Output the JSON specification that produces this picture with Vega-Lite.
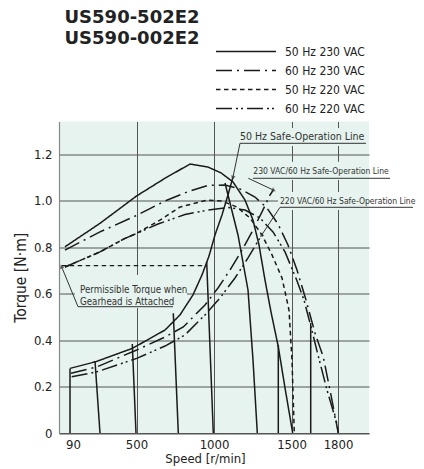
{
  "$schema": "https://vega.github.io/schema/vega-lite/v6.json",
  "width": 310,
  "height": 311.5,
  "autosize": {"type": "none"},
  "padding": {"left": 59, "top": 121.5, "right": 55, "bottom": 36},
  "config": {
    "view": {"stroke": null, "fill": "#e6f3ee"},
    "background": "white"
  },
  "title": {
    "text": ["US590-502E2", "US590-002E2"],
    "anchor": "start", "frame": "group", "orient": "top",
    "offset": 0, "dy": 5.5, "dx": 5.5,
    "font": "DejaVu Sans", "fontWeight": "bold", "fontSize": 18, "lineHeight": 21, "color": "#222"
  },
  "datasets": {
    "boxes": [
      {"s1": 1148.4, "s2": 2000, "t1": 1.312, "t2": 1.2346},
      {"s1": 1232.3, "s2": 2000, "t1": 1.1671, "t2": 1.0884},
      {"s1": 1412.9, "s2": 2000, "t1": 1.0367, "t2": 0.9593},
      {"s1": 103.2, "s2": 825.8, "t1": 0.6797, "t2": 0.5377}
    ],
    "curves": [
      {"series": "max 50Hz 230V", "cond": "50 Hz 230 VAC", "speed": 38.7, "torque": 0.801},
      {"series": "max 50Hz 230V", "cond": "50 Hz 230 VAC", "speed": 264.5, "torque": 0.902},
      {"series": "max 50Hz 230V", "cond": "50 Hz 230 VAC", "speed": 501.3, "torque": 1.020},
      {"series": "max 50Hz 230V", "cond": "50 Hz 230 VAC", "speed": 684.1, "torque": 1.096},
      {"series": "max 50Hz 230V", "cond": "50 Hz 230 VAC", "speed": 845.2, "torque": 1.157},
      {"series": "max 50Hz 230V", "cond": "50 Hz 230 VAC", "speed": 961.3, "torque": 1.144},
      {"series": "max 50Hz 230V", "cond": "50 Hz 230 VAC", "speed": 1045.2, "torque": 1.119},
      {"series": "max 50Hz 230V", "cond": "50 Hz 230 VAC", "speed": 1122.6, "torque": 1.080},
      {"series": "max 50Hz 230V", "cond": "50 Hz 230 VAC", "speed": 1200, "torque": 1.002},
      {"series": "max 50Hz 230V", "cond": "50 Hz 230 VAC", "speed": 1251.6, "torque": 0.916},
      {"series": "max 50Hz 230V", "cond": "50 Hz 230 VAC", "speed": 1290.3, "torque": 0.809},
      {"series": "max 50Hz 230V", "cond": "50 Hz 230 VAC", "speed": 1329, "torque": 0.658},
      {"series": "max 50Hz 230V", "cond": "50 Hz 230 VAC", "speed": 1367.7, "torque": 0.521},
      {"series": "max 50Hz 230V", "cond": "50 Hz 230 VAC", "speed": 1414.8, "torque": 0.371},
      {"series": "max 50Hz 230V", "cond": "50 Hz 230 VAC", "speed": 1458.1, "torque": 0.194},
      {"series": "max 50Hz 230V", "cond": "50 Hz 230 VAC", "speed": 1507.7, "torque": 0},

      {"series": "max 60Hz 230V", "cond": "60 Hz 230 VAC", "speed": 38.7, "torque": 0.787},
      {"series": "max 60Hz 230V", "cond": "60 Hz 230 VAC", "speed": 264.5, "torque": 0.865},
      {"series": "max 60Hz 230V", "cond": "60 Hz 230 VAC", "speed": 501.3, "torque": 0.936},
      {"series": "max 60Hz 230V", "cond": "60 Hz 230 VAC", "speed": 684.1, "torque": 0.998},
      {"series": "max 60Hz 230V", "cond": "60 Hz 230 VAC", "speed": 832.3, "torque": 1.038},
      {"series": "max 60Hz 230V", "cond": "60 Hz 230 VAC", "speed": 961.3, "torque": 1.065},
      {"series": "max 60Hz 230V", "cond": "60 Hz 230 VAC", "speed": 1071, "torque": 1.067},
      {"series": "max 60Hz 230V", "cond": "60 Hz 230 VAC", "speed": 1167.7, "torque": 1.050},
      {"series": "max 60Hz 230V", "cond": "60 Hz 230 VAC", "speed": 1264.5, "torque": 1.015},
      {"series": "max 60Hz 230V", "cond": "60 Hz 230 VAC", "speed": 1341.9, "torque": 0.968},
      {"series": "max 60Hz 230V", "cond": "60 Hz 230 VAC", "speed": 1412.9, "torque": 0.899},
      {"series": "max 60Hz 230V", "cond": "60 Hz 230 VAC", "speed": 1477.4, "torque": 0.809},
      {"series": "max 60Hz 230V", "cond": "60 Hz 230 VAC", "speed": 1535.5, "torque": 0.701},
      {"series": "max 60Hz 230V", "cond": "60 Hz 230 VAC", "speed": 1593.5, "torque": 0.572},
      {"series": "max 60Hz 230V", "cond": "60 Hz 230 VAC", "speed": 1651.6, "torque": 0.430},
      {"series": "max 60Hz 230V", "cond": "60 Hz 230 VAC", "speed": 1705.2, "torque": 0.327},
      {"series": "max 60Hz 230V", "cond": "60 Hz 230 VAC", "speed": 1754.8, "torque": 0.163},
      {"series": "max 60Hz 230V", "cond": "60 Hz 230 VAC", "speed": 1802, "torque": 0},

      {"series": "max 50Hz 220V", "cond": "50 Hz 220 VAC", "speed": 38.7, "torque": 0.714},
      {"series": "max 50Hz 220V", "cond": "50 Hz 220 VAC", "speed": 264.5, "torque": 0.779},
      {"series": "max 50Hz 220V", "cond": "50 Hz 220 VAC", "speed": 419.4, "torque": 0.835},
      {"series": "max 50Hz 220V", "cond": "50 Hz 220 VAC", "speed": 501.3, "torque": 0.859},
      {"series": "max 50Hz 220V", "cond": "50 Hz 220 VAC", "speed": 651.6, "torque": 0.916},
      {"series": "max 50Hz 220V", "cond": "50 Hz 220 VAC", "speed": 780.6, "torque": 0.972},
      {"series": "max 50Hz 220V", "cond": "50 Hz 220 VAC", "speed": 954.8, "torque": 1.002},
      {"series": "max 50Hz 220V", "cond": "50 Hz 220 VAC", "speed": 1051.6, "torque": 0.998},
      {"series": "max 50Hz 220V", "cond": "50 Hz 220 VAC", "speed": 1148.4, "torque": 0.972},
      {"series": "max 50Hz 220V", "cond": "50 Hz 220 VAC", "speed": 1232.3, "torque": 0.925},
      {"series": "max 50Hz 220V", "cond": "50 Hz 220 VAC", "speed": 1309.7, "torque": 0.852},
      {"series": "max 50Hz 220V", "cond": "50 Hz 220 VAC", "speed": 1374.2, "torque": 0.766},
      {"series": "max 50Hz 220V", "cond": "50 Hz 220 VAC", "speed": 1438.7, "torque": 0.667},
      {"series": "max 50Hz 220V", "cond": "50 Hz 220 VAC", "speed": 1483.9, "torque": 0.529},
      {"series": "max 50Hz 220V", "cond": "50 Hz 220 VAC", "speed": 1503.2, "torque": 0.314},
      {"series": "max 50Hz 220V", "cond": "50 Hz 220 VAC", "speed": 1518, "torque": 0},

      {"series": "max 60Hz 220V", "cond": "60 Hz 220 VAC", "speed": 38.7, "torque": 0.714},
      {"series": "max 60Hz 220V", "cond": "60 Hz 220 VAC", "speed": 264.5, "torque": 0.779},
      {"series": "max 60Hz 220V", "cond": "60 Hz 220 VAC", "speed": 419.4, "torque": 0.835},
      {"series": "max 60Hz 220V", "cond": "60 Hz 220 VAC", "speed": 638.7, "torque": 0.899},
      {"series": "max 60Hz 220V", "cond": "60 Hz 220 VAC", "speed": 812.9, "torque": 0.940},
      {"series": "max 60Hz 220V", "cond": "60 Hz 220 VAC", "speed": 961.3, "torque": 0.959},
      {"series": "max 60Hz 220V", "cond": "60 Hz 220 VAC", "speed": 1090.3, "torque": 0.970},
      {"series": "max 60Hz 220V", "cond": "60 Hz 220 VAC", "speed": 1200, "torque": 0.959},
      {"series": "max 60Hz 220V", "cond": "60 Hz 220 VAC", "speed": 1296.8, "torque": 0.925},
      {"series": "max 60Hz 220V", "cond": "60 Hz 220 VAC", "speed": 1380.6, "torque": 0.865},
      {"series": "max 60Hz 220V", "cond": "60 Hz 220 VAC", "speed": 1458.1, "torque": 0.779},
      {"series": "max 60Hz 220V", "cond": "60 Hz 220 VAC", "speed": 1533.5, "torque": 0.658},
      {"series": "max 60Hz 220V", "cond": "60 Hz 220 VAC", "speed": 1580.6, "torque": 0.572},
      {"series": "max 60Hz 220V", "cond": "60 Hz 220 VAC", "speed": 1619.4, "torque": 0.473},
      {"series": "max 60Hz 220V", "cond": "60 Hz 220 VAC", "speed": 1671, "torque": 0.336},
      {"series": "max 60Hz 220V", "cond": "60 Hz 220 VAC", "speed": 1729, "torque": 0.185},
      {"series": "max 60Hz 220V", "cond": "60 Hz 220 VAC", "speed": 1791.6, "torque": 0.043},
      {"series": "max 60Hz 220V", "cond": "60 Hz 220 VAC", "speed": 1802, "torque": 0},

      {"series": "safe 50Hz", "cond": "50 Hz 230 VAC", "speed": 71, "torque": 0.278},
      {"series": "safe 50Hz", "cond": "50 Hz 230 VAC", "speed": 238.7, "torque": 0.307},
      {"series": "safe 50Hz", "cond": "50 Hz 230 VAC", "speed": 472.9, "torque": 0.364},
      {"series": "safe 50Hz", "cond": "50 Hz 230 VAC", "speed": 684.1, "torque": 0.443},
      {"series": "safe 50Hz", "cond": "50 Hz 230 VAC", "speed": 780.6, "torque": 0.508},
      {"series": "safe 50Hz", "cond": "50 Hz 230 VAC", "speed": 864.5, "torque": 0.594},
      {"series": "safe 50Hz", "cond": "50 Hz 230 VAC", "speed": 922.6, "torque": 0.680},
      {"series": "safe 50Hz", "cond": "50 Hz 230 VAC", "speed": 967.7, "torque": 0.761},
      {"series": "safe 50Hz", "cond": "50 Hz 230 VAC", "speed": 1006.5, "torque": 0.852},
      {"series": "safe 50Hz", "cond": "50 Hz 230 VAC", "speed": 1051.6, "torque": 0.938},
      {"series": "safe 50Hz", "cond": "50 Hz 230 VAC", "speed": 1090.3, "torque": 1.024},
      {"series": "safe 50Hz", "cond": "50 Hz 230 VAC", "speed": 1122.6, "torque": 1.101},

      {"series": "safe 230V 60Hz", "cond": "60 Hz 230 VAC", "speed": 77.4, "torque": 0.257},
      {"series": "safe 230V 60Hz", "cond": "60 Hz 230 VAC", "speed": 238.7, "torque": 0.283},
      {"series": "safe 230V 60Hz", "cond": "60 Hz 230 VAC", "speed": 501.3, "torque": 0.357},
      {"series": "safe 230V 60Hz", "cond": "60 Hz 230 VAC", "speed": 684.1, "torque": 0.413},
      {"series": "safe 230V 60Hz", "cond": "60 Hz 230 VAC", "speed": 801.9, "torque": 0.456},
      {"series": "safe 230V 60Hz", "cond": "60 Hz 230 VAC", "speed": 941.9, "torque": 0.551},
      {"series": "safe 230V 60Hz", "cond": "60 Hz 230 VAC", "speed": 1025.8, "torque": 0.624},
      {"series": "safe 230V 60Hz", "cond": "60 Hz 230 VAC", "speed": 1103.2, "torque": 0.701},
      {"series": "safe 230V 60Hz", "cond": "60 Hz 230 VAC", "speed": 1174.2, "torque": 0.779},
      {"series": "safe 230V 60Hz", "cond": "60 Hz 230 VAC", "speed": 1245.2, "torque": 0.865},
      {"series": "safe 230V 60Hz", "cond": "60 Hz 230 VAC", "speed": 1309.7, "torque": 0.951},
      {"series": "safe 230V 60Hz", "cond": "60 Hz 230 VAC", "speed": 1361.3, "torque": 1.024},
      {"series": "safe 230V 60Hz", "cond": "60 Hz 230 VAC", "speed": 1382.6, "torque": 1.045},

      {"series": "safe 220V 60Hz", "cond": "60 Hz 220 VAC", "speed": 81.9, "torque": 0.242},
      {"series": "safe 220V 60Hz", "cond": "60 Hz 220 VAC", "speed": 238.7, "torque": 0.262},
      {"series": "safe 220V 60Hz", "cond": "60 Hz 220 VAC", "speed": 501.3, "torque": 0.321},
      {"series": "safe 220V 60Hz", "cond": "60 Hz 220 VAC", "speed": 684.1, "torque": 0.374},
      {"series": "safe 220V 60Hz", "cond": "60 Hz 220 VAC", "speed": 812.9, "torque": 0.422},
      {"series": "safe 220V 60Hz", "cond": "60 Hz 220 VAC", "speed": 941.9, "torque": 0.508},
      {"series": "safe 220V 60Hz", "cond": "60 Hz 220 VAC", "speed": 1038.7, "torque": 0.581},
      {"series": "safe 220V 60Hz", "cond": "60 Hz 220 VAC", "speed": 1135.5, "torque": 0.667},
      {"series": "safe 220V 60Hz", "cond": "60 Hz 220 VAC", "speed": 1219.4, "torque": 0.753},
      {"series": "safe 220V 60Hz", "cond": "60 Hz 220 VAC", "speed": 1307.7, "torque": 0.852}
    ],
    "speedlines": [
      {"line": "90", "speed": 71, "torque": 0.278}, {"line": "90", "speed": 71, "torque": 0},
      {"line": "250", "speed": 232.3, "torque": 0.310}, {"line": "250", "speed": 264.5, "torque": 0},
      {"line": "480", "speed": 472.9, "torque": 0.383}, {"line": "480", "speed": 496.8, "torque": 0},
      {"line": "750", "speed": 737.4, "torque": 0.515}, {"line": "750", "speed": 769.7, "torque": 0},
      {"line": "1000", "speed": 952.9, "torque": 0.736}, {"line": "1000", "speed": 995.5, "torque": 0},
      {"line": "1250", "speed": 1071, "torque": 1.0755},
      {"line": "1250", "speed": 1154.8, "torque": 0.8518},
      {"line": "1250", "speed": 1219.4, "torque": 0.6152},
      {"line": "1250", "speed": 1251.6, "torque": 0.314},
      {"line": "1250", "speed": 1279.4, "torque": 0},
      {"line": "1400", "speed": 1414.8, "torque": 0.379}, {"line": "1400", "speed": 1414.8, "torque": 0},
      {"line": "1600", "speed": 1623.9, "torque": 0.473}, {"line": "1600", "speed": 1623.9, "torque": 0}
    ],
    "permissible": [
      {"speed": 17.4, "torque": 0.72}, {"speed": 952.9, "torque": 0.72}
    ],
    "notes": [
      {"kind": "safe50", "text": "50 Hz Safe-Operation Line", "speed": 1167.7, "torque": 1.2746},
      {"kind": "safe60", "text": "230 VAC/60 Hz Safe-Operation Line", "speed": 1253.5, "torque": 1.1271},
      {"kind": "safe60", "text": "220 VAC/60 Hz Safe-Operation Line", "speed": 1425.8, "torque": 0.9993},
      {"kind": "gear", "text": "Permissible Torque when", "speed": 135.5, "torque": 0.615},
      {"kind": "gear", "text": "Gearhead is Attached", "speed": 135.5, "torque": 0.5648}
    ],
    "leaders": [
      {"s1": 1167.7, "t1": 1.2462, "s2": 1980.6, "t2": 1.2462},
      {"s1": 1167.7, "t1": 1.2462, "s2": 1122.6, "t2": 1.1013},
      {"s1": 1251.6, "t1": 1.0957, "s2": 2135.5, "t2": 1.0957},
      {"s1": 1221.3, "t1": 1.0957, "s2": 1382.6, "t2": 1.0453},
      {"s1": 1425.8, "t1": 0.9709, "s2": 2283.9, "t2": 0.9709},
      {"s1": 1425.8, "t1": 0.9709, "s2": 1307.7, "t2": 0.8518},
      {"s1": 122.6, "t1": 0.5433, "s2": 735.5, "t2": 0.5433},
      {"s1": 122.6, "t1": 0.5433, "s2": 17.4, "t2": 0.7141}
    ],
    "tips": [
      {"name": "50", "speed": 1122.6, "torque": 1.1013},
      {"name": "230", "speed": 1382.6, "torque": 1.0453},
      {"name": "220", "speed": 1307.7, "torque": 0.8518},
      {"name": "perm", "speed": 17.4, "torque": 0.7141}
    ]
  },
  "encoding": {
    "x": {"field": "speed", "type": "quantitative", "scale": {"domain": [0, 2000], "nice": false},
      "axis": {
        "values": [90, 500, 1000, 1500, 1800], "format": "d", "title": "Speed [r/min]",
        "grid": true, "gridColor": "#555", "gridWidth": 1,
        "gridOpacity": {"condition": {"test": "datum.value === 90", "value": 0}, "value": 1},
        "ticks": false, "labelPadding": 5, "domainColor": "#555", "domainWidth": 1.2,
        "labelFont": "DejaVu Sans Condensed", "labelFontSize": 13, "labelColor": "#222",
        "titleFont": "DejaVu Sans Condensed", "titleFontSize": 13, "titleFontWeight": "normal",
        "titleColor": "#222", "titlePadding": 1, "titleX": 146
      }},
    "y": {"field": "torque", "type": "quantitative", "scale": {"domain": [0, 1.34], "nice": false},
      "axis": {
        "values": [0, 0.2, 0.4, 0.6, 0.8, 1.0, 1.2],
        "labelExpr": "datum.value == 0 ? '0' : format(datum.value, '.1f')",
        "title": "Torque [N·m]",
        "grid": true, "gridColor": "#555", "gridWidth": 1,
        "ticks": false, "labelPadding": 7, "domainColor": "#888", "domainWidth": 1.2,
        "labelFont": "DejaVu Sans Condensed", "labelFontSize": 13, "labelColor": "#222",
        "titleFont": "DejaVu Sans Condensed", "titleFontSize": 15.5, "titleFontWeight": "normal",
        "titleColor": "#222", "titlePadding": 5
      }}
  },
  "layer": [
    {
      "data": {"name": "boxes"},
      "mark": {"type": "rect", "color": "#e6f3ee"},
      "encoding": {
        "x": {"field": "s1", "type": "quantitative"},
        "x2": {"field": "s2"},
        "y": {"field": "t1", "type": "quantitative"},
        "y2": {"field": "t2"}
      }
    },
    {
      "data": {"name": "curves"},
      "mark": {"type": "line", "color": "#1a1a1a", "strokeWidth": 1.5},
      "encoding": {
        "detail": {"field": "series"},
        "strokeDash": {"field": "cond", "type": "nominal",
          "scale": {"domain": ["50 Hz 230 VAC", "60 Hz 230 VAC", "50 Hz 220 VAC", "60 Hz 220 VAC"],
            "range": [[1, 0], [16, 5, 2, 5], [4.5, 3.5], [16, 4, 2, 3, 2, 4]]},
          "legend": {
            "title": null, "orient": "none", "legendX": 156, "legendY": -79.5,
            "symbolType": "stroke", "symbolSize": 3600, "symbolStrokeWidth": 1.3,
            "symbolStrokeColor": "#1a1a1a", "labelFont": "DejaVu Sans Condensed",
            "labelFontSize": 12, "labelColor": "#222", "labelOffset": 8,
            "clipHeight": 19, "rowPadding": 0
          }}
      }
    },
    {
      "data": {"name": "speedlines"},
      "mark": {"type": "line", "color": "#1a1a1a", "strokeWidth": 1.5},
      "encoding": {"detail": {"field": "line"}}
    },
    {
      "data": {"name": "permissible"},
      "mark": {"type": "line", "color": "#1a1a1a", "strokeWidth": 1.2, "strokeDash": [4.5, 3.5]},
      "encoding": {}
    },
    {
      "data": {"name": "leaders"},
      "mark": {"type": "rule", "color": "#333", "strokeWidth": 1},
      "encoding": {
        "x": {"field": "s1", "type": "quantitative"},
        "y": {"field": "t1", "type": "quantitative"},
        "x2": {"field": "s2"},
        "y2": {"field": "t2"}
      }
    },
    {
      "data": {"name": "notes"},
      "transform": [{"filter": "datum.kind == 'safe50'"}],
      "mark": {"type": "text", "align": "left", "baseline": "middle", "font": "DejaVu Sans Condensed", "fontSize": 10.5, "color": "#333"},
      "encoding": {"text": {"field": "text"}}
    },
    {
      "data": {"name": "notes"},
      "transform": [{"filter": "datum.kind == 'safe60'"}],
      "mark": {"type": "text", "align": "left", "baseline": "middle", "font": "DejaVu Sans Condensed", "fontSize": 8.5, "color": "#333"},
      "encoding": {"text": {"field": "text"}}
    },
    {
      "data": {"name": "notes"},
      "transform": [{"filter": "datum.kind == 'gear'"}],
      "mark": {"type": "text", "align": "left", "baseline": "middle", "font": "DejaVu Sans Condensed", "fontSize": 9.7, "color": "#333"},
      "encoding": {"text": {"field": "text"}}
    },
    {
      "data": {"name": "tips"},
      "transform": [{"filter": "datum.name == '50'"}],
      "mark": {"type": "point", "shape": "triangle", "filled": true, "size": 22, "angle": 192, "color": "#333"}
    },
    {
      "data": {"name": "tips"},
      "transform": [{"filter": "datum.name == '230'"}],
      "mark": {"type": "point", "shape": "triangle", "filled": true, "size": 22, "angle": 115, "color": "#333"}
    },
    {
      "data": {"name": "tips"},
      "transform": [{"filter": "datum.name == '220'"}],
      "mark": {"type": "point", "shape": "triangle", "filled": true, "size": 22, "angle": 213, "color": "#333"}
    },
    {
      "data": {"name": "tips"},
      "transform": [{"filter": "datum.name == 'perm'"}],
      "mark": {"type": "point", "shape": "triangle", "filled": true, "size": 22, "angle": 338, "color": "#333"}
    }
  ]
}
